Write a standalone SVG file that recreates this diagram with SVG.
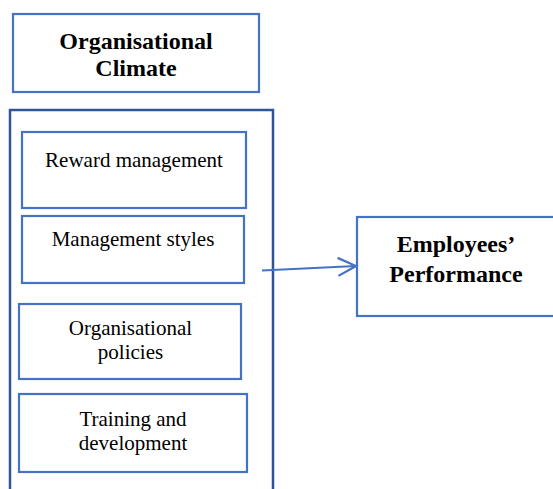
<svg xmlns="http://www.w3.org/2000/svg" width="553" height="489" viewBox="0 0 553 489">
  <style>
    .box { fill: #ffffff; stroke: #4472C4; stroke-width: 2.2; }
    .frame { fill: none; stroke: #2F5597; stroke-width: 2.5; }
    text { font-family: 'Liberation Serif', 'DejaVu Serif', serif; fill: #000; text-anchor: middle; }
    .head { font-weight: bold; font-size: 24px; }
    .item { font-size: 21px; }
    .link { fill: none; stroke: #4472C4; stroke-width: 2.2; }
  </style>
  <defs>
    <marker id="open-arrow" markerWidth="22" markerHeight="22" refX="19" refY="10" orient="auto" markerUnits="userSpaceOnUse">
      <path d="M1,1 L19,10 L1,19" fill="none" stroke="#4472C4" stroke-width="2.2"/>
    </marker>
  </defs>

  <rect width="553" height="489" fill="#ffffff"/>

  <g id="organisational-climate">
    <rect class="box" x="13" y="14" width="246" height="78"/>
    <text class="head" x="136" y="49">Organisational</text>
    <text class="head" x="136" y="76">Climate</text>
  </g>

  <g id="climate-dimensions">
    <path class="frame" d="M10,495 L10,110 L273,110 L273,495"/>
  </g>

  <g id="reward-management">
    <rect class="box" x="22" y="132" width="224" height="76"/>
    <text class="item" x="134" y="167">Reward management</text>
  </g>

  <g id="management-styles">
    <rect class="box" x="22" y="216" width="222" height="67"/>
    <text class="item" x="133" y="246">Management styles</text>
  </g>

  <g id="organisational-policies">
    <rect class="box" x="19" y="304" width="222" height="75"/>
    <text class="item" x="130.5" y="335">Organisational</text>
    <text class="item" x="130.5" y="359">policies</text>
  </g>

  <g id="training-development">
    <rect class="box" x="19" y="394" width="228" height="78"/>
    <text class="item" x="133" y="426">Training and</text>
    <text class="item" x="133" y="450">development</text>
  </g>

  <g id="employees-performance">
    <rect class="box" x="357" y="217" width="210" height="99"/>
    <text class="head" x="456" y="252">Employees’</text>
    <text class="head" x="456" y="282">Performance</text>
  </g>

  <g id="connectors">
    <line class="link" x1="262" y1="270.5" x2="356" y2="266" marker-end="url(#open-arrow)"/>
  </g>
</svg>
